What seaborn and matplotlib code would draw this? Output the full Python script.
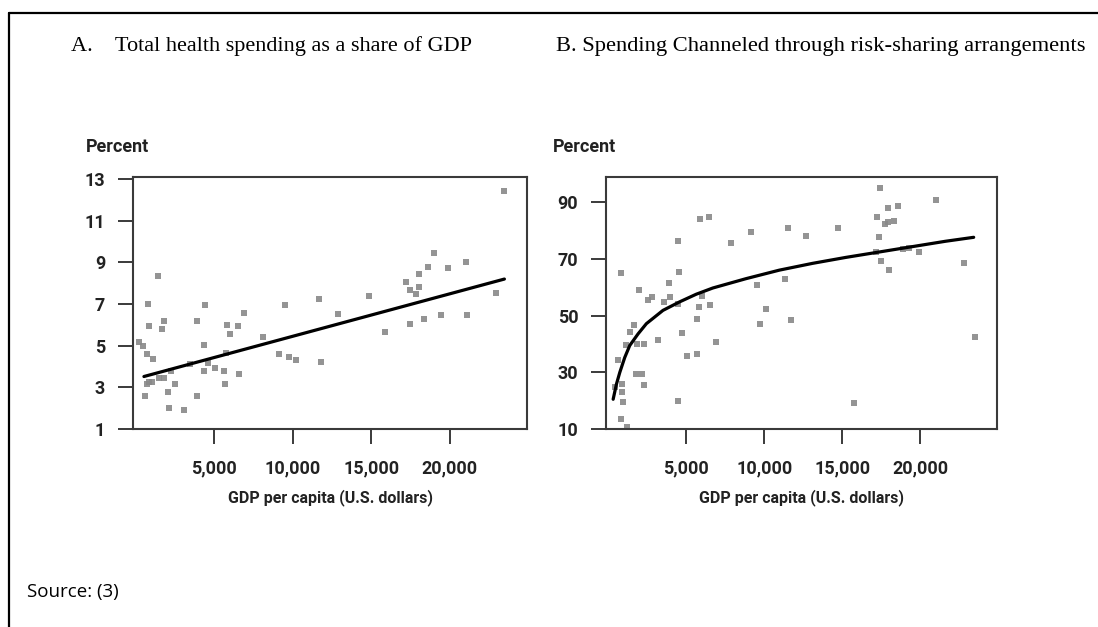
import numpy as np
import pandas as pd
import matplotlib
matplotlib.use("Agg")
import matplotlib.pyplot as plt
import seaborn as sns
from matplotlib.lines import Line2D
from matplotlib.ticker import FuncFormatter

# -------------------- Data --------------------
# Panel A: total health spending as a share of GDP
a_gdp = [23420, 1474, 811, 4466, 9509, 11689, 14830, 12864, 6902, 5812,
         6517, 6004, 3931, 1859, 1688, 854, 8099, 235, 512, 4380,
         769, 1153, 9167, 9744, 10236, 11796, 5748, 3483, 4615, 5043,
         4402, 5641, 6624, 2265, 1517, 1838, 876, 769, 1047, 2500,
         5727, 2115, 598, 3931, 2158, 3120, 15899, 17181, 17480, 17865,
         18036, 18036, 18634, 18976, 19852, 21006, 17480, 18378, 19404, 21113,
         22929]
a_share = [12.44, 8.34, 6.98, 6.95, 6.95, 7.23, 7.39, 6.54, 6.56, 6.00,
           5.94, 5.55, 6.18, 6.18, 5.81, 5.94, 5.42, 5.18, 4.99, 5.02,
           4.59, 4.35, 4.61, 4.46, 4.30, 4.22, 4.67, 4.11, 4.19, 3.92,
           3.79, 3.77, 3.64, 3.77, 3.47, 3.44, 3.28, 3.15, 3.28, 3.18,
           3.15, 2.79, 2.57, 2.57, 2.03, 1.90, 5.65, 8.07, 7.68, 7.47,
           7.83, 8.42, 8.77, 9.45, 8.73, 9.04, 6.06, 6.27, 6.45, 6.48,
           7.55]
a_fit_gdp = [555, 23464]
a_fit_share = [3.52, 8.20]

# Panel B: spending channeled through risk-sharing arrangements
b_gdp = [17406, 21003, 18577, 17938, 17193, 18300, 17938, 17725, 5894, 6468,
         9150, 7894, 11512, 12682, 14725, 4468, 17321, 17130, 17449, 17981,
         18875, 19258, 19875, 22790, 23471, 808, 4532, 3915, 2000, 2553,
         2829, 3553, 3936, 4468, 5787, 6511, 6000, 9533, 11320, 10086,
         9703, 11703, 5681, 4745, 6915, 5043, 5660, 3213, 1659, 1425,
         1148, 1851, 2297, 616, 1808, 2170, 2276, 425, 914, 914,
         957, 850, 1233, 4468, 15746]
b_pct = [95.2, 90.8, 88.9, 87.9, 84.9, 83.6, 83.0, 82.3, 84.3, 84.8,
         79.5, 75.6, 80.9, 78.2, 81.1, 76.5, 77.7, 72.6, 69.2, 66.2,
         73.4, 73.8, 72.4, 68.5, 42.4, 65.0, 65.3, 61.5, 59.1, 55.4,
         56.6, 54.9, 56.6, 54.1, 53.2, 53.7, 56.9, 60.9, 62.8, 52.5,
         47.0, 48.5, 48.7, 43.8, 40.9, 35.9, 36.5, 41.4, 46.6, 44.1,
         39.5, 40.1, 40.1, 34.5, 29.4, 29.6, 25.5, 24.7, 25.9, 23.1,
         19.7, 13.4, 10.6, 19.9, 19.1]
b_fit_gdp = [318, 531, 744, 1063, 1382, 1914, 2446, 3510, 4574, 5638,
             6702, 8830, 10958, 13086, 15214, 17342, 19470, 21598, 23407]
b_fit_pct = [20.5, 25.9, 30.0, 35.3, 39.5, 43.6, 47.2, 51.9, 54.9, 57.6,
             59.8, 63.1, 66.1, 68.5, 70.6, 72.5, 74.4, 76.3, 77.7]

x_ticks = [5000, 10000, 15000, 20000]
a_yticks = [1, 3, 5, 7, 9, 11, 13]
b_yticks = [10, 30, 50, 70, 90]

title_a = "A.    Total health spending as a share of GDP"
title_b = "B. Spending Channeled through risk-sharing arrangements"
x_label = "GDP per capita (U.S. dollars)"
y_label = "Percent"
source_text = "Source: (3)"

df_a = pd.DataFrame({"gdp": a_gdp, "value": a_share})
df_b = pd.DataFrame({"gdp": b_gdp, "value": b_pct})
fit_a = pd.DataFrame({"gdp": a_fit_gdp, "value": a_fit_share})
fit_b = pd.DataFrame({"gdp": b_fit_gdp, "value": b_fit_pct})

# -------------------- Style --------------------
sns.set_theme(style="white")
plt.rcParams["font.family"] = ["Roboto", "DejaVu Sans"]

axis_family = ["Roboto", "DejaVu Sans"]
text_col = "#222222"
spine_col = "#3a3a3a"
dot_col = "#888888"

fig = plt.figure(figsize=(10.98, 6.27), dpi=100)
ax_a = fig.add_axes([133 / 1098, 1 - 429 / 627, 394 / 1098, 252 / 627])
ax_b = fig.add_axes([606 / 1098, 1 - 429 / 627, 391 / 1098, 252 / 627])

panels = [
    (ax_a, df_a, fit_a, a_yticks, (1, 13.1), -0.12),
    (ax_b, df_b, fit_b, b_yticks, (10, 99), -0.137),
]

for ax, pts, fit, yt, ylim, px in panels:
    sns.scatterplot(data=pts, x="gdp", y="value", ax=ax, marker="s", s=18,
                    color=dot_col, linewidth=0, alpha=0.9, zorder=2)
    sns.lineplot(data=fit, x="gdp", y="value", ax=ax, color="black",
                 linewidth=2.3, zorder=3)
    ax.set_xlim(-140, 24900)
    ax.set_ylim(*ylim)
    ax.set_xticks(x_ticks)
    ax.set_yticks(yt)
    ax.xaxis.set_major_formatter(FuncFormatter(lambda v, p: f"{int(v):,}"))
    ax.tick_params(axis="both", which="major", length=11, width=1.4,
                   color=spine_col, direction="out", bottom=True, left=True)
    ax.tick_params(axis="x", pad=11)
    ax.tick_params(axis="y", pad=9)
    for lab in ax.get_xticklabels() + ax.get_yticklabels():
        lab.set_fontfamily(axis_family)
        lab.set_fontweight("bold")
        lab.set_fontsize(13)
        lab.set_color(text_col)
    for sp in ax.spines.values():
        sp.set_color(spine_col)
        sp.set_linewidth(1.5)
    ax.set_xlabel(x_label, labelpad=8, color=text_col, family=axis_family,
                  weight="bold", size=11.5)
    ax.set_ylabel("")
    ax.text(px, 1.10, y_label, transform=ax.transAxes, ha="left",
            va="baseline", color=text_col, family=axis_family,
            weight="bold", size=13)

# panel titles
serif = ["Liberation Serif", "DejaVu Serif"]
fig.text(71 / 1098, 1 - 51 / 627, title_a, family=serif, fontsize=16,
         ha="left", va="baseline", color="black")
fig.text(556 / 1098, 1 - 51 / 627, title_b, family=serif, fontsize=16.2,
         ha="left", va="baseline", color="black")

# source note
fig.text(27 / 1098, 1 - 597 / 627, source_text, family=["Open Sans", "DejaVu Sans"],
         fontsize=13.5, ha="left", va="baseline", color="black")

# frame lines on top and left
fig.add_artist(Line2D([9 / 1098, 1], [1 - 12.7 / 627, 1 - 12.7 / 627],
                      transform=fig.transFigure, color="black", linewidth=1.6))
fig.add_artist(Line2D([9 / 1098, 9 / 1098], [0, 1 - 12.7 / 627],
                      transform=fig.transFigure, color="black", linewidth=1.6))

fig.savefig("out.png", dpi=100)
